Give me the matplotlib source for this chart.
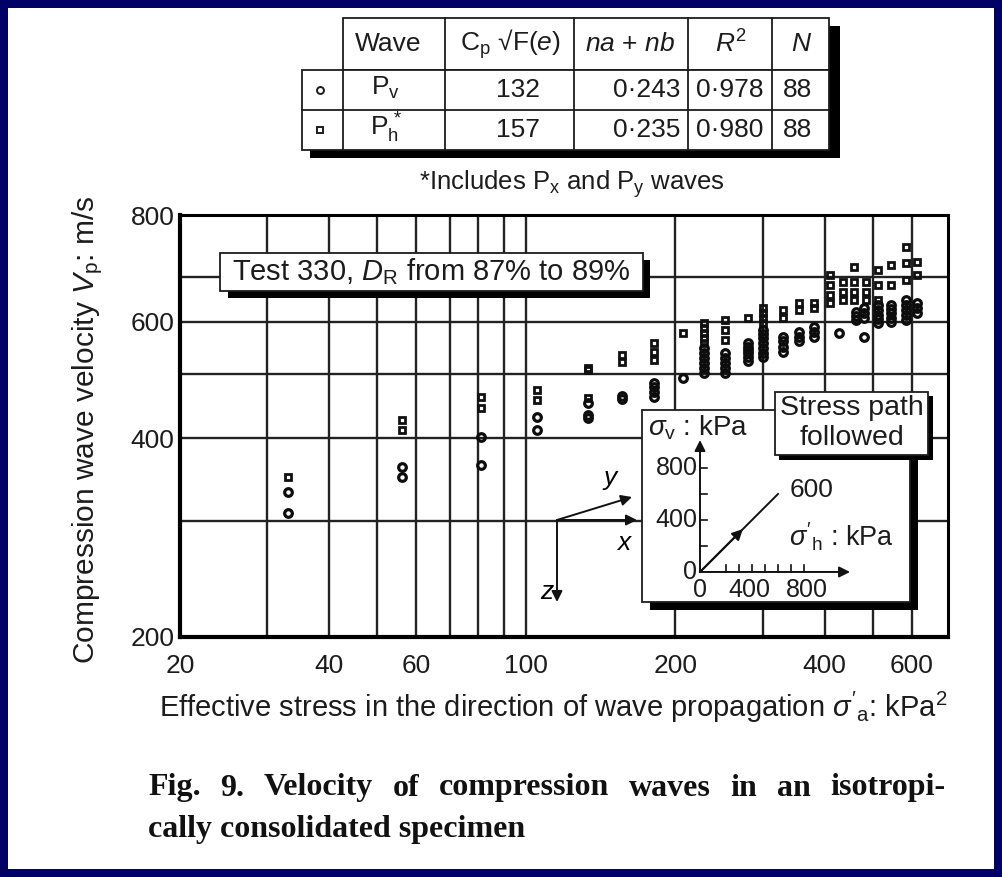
import matplotlib
matplotlib.use('Agg')
import matplotlib.pyplot as plt
from matplotlib.patches import Rectangle
from matplotlib.ticker import FixedLocator, FixedFormatter, NullLocator

plt.rcParams['font.family'] = ['Liberation Sans', 'DejaVu Sans']
plt.rcParams['mathtext.fontset'] = 'custom'
plt.rcParams['mathtext.rm'] = 'Liberation Sans'
plt.rcParams['mathtext.it'] = 'Liberation Sans:italic'
plt.rcParams['mathtext.bf'] = 'Liberation Sans:bold'

# P_h readings (includes P_x and P_y): effective stress kPa, velocity m/s
stress_h = [33, 56, 56, 81, 81, 105, 105, 133, 133, 133, 156, 156, 181, 181, 181,
            207, 228, 228, 228, 228, 228, 252, 252, 252, 280, 301, 301, 301, 301,
            329, 329, 355, 355, 380, 380, 411, 411, 411, 411, 435, 435, 435,
            458, 458, 458, 458, 484, 484, 484, 512, 512, 512, 544, 544,
            583, 583, 583, 616, 616]
vel_h = [349, 426, 411, 461, 444, 473, 457, 511, 507, 460, 534, 521, 557, 540, 525,
         577, 597, 587, 577, 567, 557, 603, 583, 563, 607, 629, 618, 607, 597,
         625, 607, 640, 625, 640, 629, 706, 682, 658, 640, 689, 665, 647,
         726, 689, 665, 647, 689, 665, 647, 718, 682, 647, 731, 682,
         778, 736, 694, 739, 706]

# P_v readings
stress_v = [33, 33, 56, 56, 81, 81, 105, 105, 133, 133, 133, 156, 156,
            181, 181, 181, 181, 207, 228, 228, 228, 228, 228, 228,
            252, 252, 252, 252, 252, 280, 280, 280, 280, 280, 280,
            301, 301, 301, 301, 301, 301, 301, 329, 329, 329, 329,
            355, 355, 355, 380, 380, 380, 427, 462, 462, 462, 480, 480, 480, 480,
            512, 512, 512, 512, 512, 544, 544, 544, 544, 544,
            583, 583, 583, 583, 583, 616, 616, 616]
vel_v = [331, 308, 362, 349, 401, 364, 430, 411, 452, 434, 429, 463, 459,
         484, 478, 470, 461, 493, 547, 538, 529, 519, 511, 502,
         538, 528, 519, 510, 502, 557, 550, 544, 537, 531, 524,
         583, 575, 567, 557, 547, 538, 531, 569, 560, 549, 540,
         579, 569, 560, 589, 579, 569, 577, 620, 611, 603, 569, 629, 618, 607,
         636, 625, 614, 605, 597, 636, 627, 618, 608, 599,
         647, 636, 625, 614, 603, 640, 629, 618]

x_ticks = [20, 40, 60, 100, 200, 400, 600]
x_grid = [30, 40, 50, 60, 70, 80, 90, 100, 200, 300, 400, 500, 600]
y_grid = [300, 400, 500, 600, 700]
y_ticks = [200, 400, 600, 870]
y_tick_labels = ['200', '400', '600', '800']

table_header = ['Wave', 'C$_{\\rm p}$ √F($e$)', '$na$ + $nb$', '$R^2$', '$N$']
table_rows = [['P$_{\\rm v}$', '132', '0·243', '0·978', '88'],
              ['P$_{\\rm h}^{\\,*}$', '157', '0·235', '0·980', '88']]

path_end = 600  # isotropic stress path end, kPa
inset_ticks_v = [200, 400, 600, 800]
inset_ticks_h = [200, 300, 400, 500, 600, 700, 800]

W, H = 1002, 877
fig = plt.figure(figsize=(W / 100, H / 100), dpi=100)
fig.patch.set_facecolor('#000066')
ink = '#1c1c1c'


def px_axes(x0, y0, x1, y1, z):
    a = fig.add_axes([x0 / W, 1 - y1 / H, (x1 - x0) / W, (y1 - y0) / H], zorder=z)
    return a


def overlay(z):
    a = fig.add_axes([0, 0, 1, 1], zorder=z)
    a.set_xlim(0, W)
    a.set_ylim(H, 0)
    a.axis('off')
    a.patch.set_alpha(0)
    return a


bg = overlay(0)
bg.add_patch(Rectangle((8, 8), W - 16, H - 16, fc='white', ec='none'))

# main log-log chart
ax = px_axes(180, 215, 948, 637, 1)
ax.set_xscale('log')
ax.set_yscale('log')
ax.set_xlim(20, 710)
ax.set_ylim(200, 870)
for v in x_grid:
    ax.axvline(v, color='#222222', lw=1.7, zorder=0.5)
for v in y_grid:
    ax.axhline(v, color='#222222', lw=1.7, zorder=0.5)
ax.plot(stress_h, vel_h, ls='none', marker='s', ms=5, mfc='none',
        mec='#111111', mew=2.0, zorder=3)
ax.plot(stress_v, vel_v, ls='none', marker='o', ms=5.5, mfc='none',
        mec='#0d0d0d', mew=2.3, zorder=3)
ax.xaxis.set_major_locator(FixedLocator(x_ticks))
ax.xaxis.set_major_formatter(FixedFormatter([str(t) for t in x_ticks]))
ax.xaxis.set_minor_locator(NullLocator())
ax.yaxis.set_major_locator(FixedLocator(y_ticks))
ax.yaxis.set_major_formatter(FixedFormatter(y_tick_labels))
ax.yaxis.set_minor_locator(NullLocator())
ax.tick_params(which='both', length=0, labelsize=19, labelcolor=ink)
ax.tick_params(axis='x', pad=12)
ax.tick_params(axis='y', pad=4)
for s in ['left', 'bottom']:
    ax.spines[s].set_linewidth(3)
for s in ['top', 'right']:
    ax.spines[s].set_linewidth(2.2)

bg.text(88, 430, 'Compression wave velocity $V_{\\rm p}$: m/s', rotation=90,
        ha='center', va='center', fontsize=21.5, color=ink)
bg.text(553, 707, "Effective stress in the direction of wave propagation "
        "$\\sigma'_{\\rm a}$: kPa$^2$", ha='center', va='center', fontsize=21,
        color=ink)

# fit table
cols = [343, 445, 574, 688, 772, 829]
bg.add_patch(Rectangle((829, 26), 11, 132, fc='black', ec='none'))
bg.add_patch(Rectangle((310, 150), 530, 8, fc='black', ec='none'))
bg.add_patch(Rectangle((343, 18), 486, 52, fc='white', ec=ink, lw=1.3))
bg.add_patch(Rectangle((302, 70), 527, 80, fc='white', ec=ink, lw=1.3))
for c in cols[1:-1]:
    bg.plot([c, c], [18, 150], color=ink, lw=1.3)
bg.plot([343, 343], [70, 150], color=ink, lw=1.3)
bg.plot([302, 829], [110, 110], color=ink, lw=1.3)
head_x = [388, 510, 630, 731, 802]
for x, t in zip(head_x, table_header):
    bg.text(x, 44, t, ha='center', va='center', fontsize=19, color=ink)
bg.plot([320], [90], marker='o', ms=5, mfc='none', mec=ink, mew=1.4)
bg.plot([320], [130], marker='s', ms=5, mfc='none', mec=ink, mew=1.4)
for y, r in zip([90, 130], table_rows):
    bg.text(386, y - 2, r[0], ha='center', va='center', fontsize=19, color=ink)
    bg.text(518, y, r[1], ha='center', va='center', fontsize=19, color=ink)
    bg.text(680, y, r[2], ha='right', va='center', fontsize=19, color=ink)
    bg.text(730, y, r[3], ha='center', va='center', fontsize=19, color=ink)
    bg.text(798, y, r[4], ha='center', va='center', fontsize=19, color=ink)
bg.text(572, 184, '*Includes P$_{\\rm x}$ and P$_{\\rm y}$ waves', ha='center',
        va='center', fontsize=18.5, color=ink)

# caption, first line justified
cap_kw = dict(fontsize=23, fontweight='bold', family='Liberation Serif',
              va='center', ha='left', color='#111111')
words = 'Fig. 9. Velocity of compression waves in an isotropi-'.split()
renderer = fig.canvas.get_renderer()
texts = [bg.text(0, 788, w, **cap_kw) for w in words]
widths = [t.get_window_extent(renderer).width for t in texts]
gap = (945 - 148 - sum(widths)) / (len(words) - 1)
x = 148
for t, w in zip(texts, widths):
    t.set_x(x)
    x += w + gap
bg.text(148, 830, 'cally consolidated specimen', **cap_kw)

top = overlay(5)
# test label box
top.add_patch(Rectangle((228, 260), 422, 38, fc='black', ec='none'))
top.add_patch(Rectangle((220, 253), 423, 38, fc='white', ec=ink, lw=1.3))
top.text(232, 272, 'Test 330, $D_{\\rm R}$ from 87% to 89%', ha='left',
         va='center', fontsize=21, color=ink)
# stress path inset frame
top.add_patch(Rectangle((650, 418), 268, 192, fc='black', ec='none'))
top.add_patch(Rectangle((642, 410), 268, 192, fc='white', ec=ink, lw=1.3))
top.add_patch(Rectangle((779, 396), 154, 64, fc='black', ec='none'))
top.add_patch(Rectangle((775, 392), 153, 63, fc='white', ec=ink, lw=1.3))
top.text(852, 408, 'Stress path', ha='center', va='center', fontsize=20.5, color=ink)
top.text(852, 438, 'followed', ha='center', va='center', fontsize=20.5, color=ink)
# wave direction axes
arw = dict(arrowstyle='-|>', lw=1.4, color='#111111', mutation_scale=16,
           shrinkA=0, shrinkB=0)
for end in [(557, 602), (637, 520), (632, 497)]:
    top.annotate('', xy=end, xytext=(557, 520), arrowprops=arw)
top.text(624, 543, 'x', style='italic', fontsize=19, ha='center', va='center')
top.text(610, 478, 'y', style='italic', fontsize=19, ha='center', va='center')
top.text(547, 592, 'z', style='italic', fontsize=19, ha='center', va='center')

ins = px_axes(642, 410, 910, 602, 6)
ins.set_xlim(-446, 1615)
ins.set_ylim(-231, 1246)
ins.axis('off')
ins.patch.set_alpha(0)
ins.annotate('', xy=(0, 1015), xytext=(0, 0), arrowprops=arw)
ins.annotate('', xy=(1154, 0), xytext=(0, 0), arrowprops=arw)
for t in inset_ticks_v:
    ins.plot([0, 55], [t, t], color='#111111', lw=1.2)
for t in inset_ticks_h:
    ins.plot([t, t], [0, 55], color='#111111', lw=1.2)
ins.plot([0, path_end], [0, path_end], color='#111111', lw=1.4)
ins.annotate('', xy=(path_end * 0.55, path_end * 0.55), xytext=(0, 0), arrowprops=arw)
ins.text(-20, 800, '800', ha='right', va='center', fontsize=18, color=ink)
ins.text(-20, 400, '400', ha='right', va='center', fontsize=18, color=ink)
ins.text(-20, 0, '0', ha='right', va='center', fontsize=18, color=ink)
ins.text(0, -140, '0', ha='center', va='center', fontsize=18, color=ink)
ins.text(380, -140, '400', ha='center', va='center', fontsize=18, color=ink)
ins.text(820, -140, '800', ha='center', va='center', fontsize=18, color=ink)
ins.text(path_end + 260, path_end + 30, str(path_end), ha='center', va='center',
         fontsize=19, color=ink)
ins.text(1090, 270, "$\\sigma'_{\\rm h}$ : kPa", ha='center', va='center',
         fontsize=19.5, color=ink)
ins.text(-400, 1110, "$\\sigma_{\\rm v}$ : kPa", ha='left', va='center',
         fontsize=20, color=ink)

fig.savefig('out.png', dpi=100, facecolor=fig.get_facecolor())
